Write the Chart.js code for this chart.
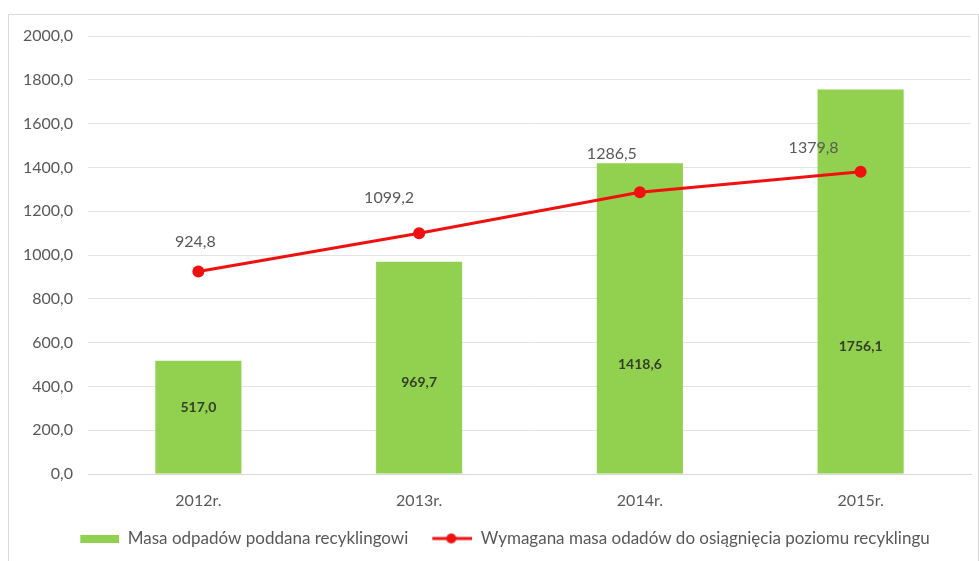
<!DOCTYPE html>
<html>
<head>
<meta charset="utf-8">
<script src="https://cdn.jsdelivr.net/npm/chart.js@4.4.0/dist/chart.umd.min.js"></script>
<style>
    html, body { margin: 0; padding: 0; background: #fff; }
    #wrap { position: relative; width: 979px; height: 561px; overflow: hidden; }
    #frame { position: absolute; left: 8px; top: 14px; width: 969px; height: 600px; border: 1px solid #d9d9d9; pointer-events: none; }
</style>
</head>
<body>
<div id="wrap">
    <canvas id="myChart" width="979" height="561"></canvas>
    <div id="frame"></div>
</div>
<script>
"use strict";

var years = ["2012r.", "2013r.", "2014r.", "2015r."];
var recycled = [517.0, 969.7, 1418.6, 1756.1];
var required = [924.8, 1099.2, 1286.5, 1379.8];
var barLabel = "Masa odpadów poddana recyklingowi";
var lineLabel = "Wymagana masa odadów do osiągnięcia poziomu recyklingu";

var barColor = "#92d050";
var lineColor = "#f01010";
var textColor = "#595959";
var fontName = "Lato, 'Noto Sans', sans-serif";

function fmt(v) {
    return v.toFixed(1).replace(".", ",");
}

// little canvases used as legend markers
function marker(w, h, draw) {
    var c = document.createElement("canvas");
    c.width = w;
    c.height = h;
    draw(c.getContext("2d"));
    return c;
}
var greenMark = marker(54, 8, function (g) {
    g.fillStyle = barColor;
    g.fillRect(15, 0, 39, 8);
});
var redMark = marker(54, 12, function (g) {
    g.strokeStyle = lineColor;
    g.lineWidth = 3;
    g.beginPath();
    g.moveTo(14, 6);
    g.lineTo(54, 6);
    g.stroke();
    g.fillStyle = lineColor;
    g.beginPath();
    g.arc(33, 6, 5, 0, Math.PI * 2);
    g.fill();
});

// value labels, drawn by hand since no datalabels plugin is around
var valueLabels = {
    id: "valueLabels",
    afterDatasetsDraw: function (chart, args, opts) {
        var ctx = chart.ctx;
        var y = chart.scales.y;
        ctx.save();
        ctx.textAlign = "center";
        ctx.textBaseline = "middle";

        var bars = chart.getDatasetMeta(0).data;
        ctx.font = "bold 14px " + fontName;
        ctx.fillStyle = "#333f26";
        bars.forEach(function (bar, i) {
            ctx.fillText(fmt(recycled[i]), bar.x, y.getPixelForValue(opts.barAnchor[i]));
        });

        var pts = chart.getDatasetMeta(1).data;
        ctx.font = "16px " + fontName;
        ctx.fillStyle = textColor;
        pts.forEach(function (p, i) {
            var off = opts.lineOffset[i];
            ctx.fillText(fmt(required[i]), p.x + off[0], p.y + off[1]);
        });
        ctx.restore();
    }
};

// nudge the legend sideways, the original is not quite centred
var legendShift = {
    id: "legendShift",
    afterLayout: function (chart, args, opts) {
        chart.legend.left += opts.dx;
        chart.legend.right += opts.dx;
    }
};

var ctx = document.getElementById("myChart");

var myChart = new Chart(ctx, {
    type: "bar",
    data: {
        labels: years,
        datasets: [
            {
                type: "bar",
                label: barLabel,
                data: recycled,
                backgroundColor: barColor,
                borderWidth: 0,
                barPercentage: 0.39,
                categoryPercentage: 1.0,
                order: 2
            },
            {
                type: "line",
                label: lineLabel,
                data: required,
                borderColor: lineColor,
                backgroundColor: lineColor,
                borderWidth: 3,
                pointRadius: 6,
                pointBorderWidth: 0,
                pointBackgroundColor: lineColor,
                tension: 0,
                fill: false,
                order: 1
            }
        ]
    },
    options: {
        responsive: false,
        animation: false,
        layout: {
            padding: { left: 0, right: 8, top: 36, bottom: 4 }
        },
        scales: {
            x: {
                grid: { display: false, drawTicks: false },
                border: { color: "#d9d9d9" },
                ticks: {
                    color: textColor,
                    font: { family: fontName, size: 16 },
                    padding: 17
                },
                afterFit: function (scale) { scale.height = 46; }
            },
            y: {
                min: 0,
                max: 2000,
                grid: { color: "#e3e3e3", drawTicks: false },
                border: { display: false },
                ticks: {
                    stepSize: 200,
                    color: textColor,
                    font: { family: fontName, size: 16 },
                    padding: 15,
                    callback: function (v) { return fmt(v); }
                },
                afterFit: function (scale) { scale.width = 88; }
            }
        },
        plugins: {
            tooltip: { enabled: false },
            legend: {
                position: "bottom",
                labels: {
                    usePointStyle: true,
                    pointStyleWidth: 54,
                    padding: 10,
                    color: textColor,
                    font: { family: fontName, size: 17 },
                    sort: function (a, b) { return a.datasetIndex - b.datasetIndex; },
                    generateLabels: function (chart) {
                        var items = Chart.defaults.plugins.legend.labels.generateLabels(chart);
                        items.forEach(function (it) {
                            it.pointStyle = it.datasetIndex === 0 ? greenMark : redMark;
                        });
                        return items;
                    }
                }
            },
            legendShift: { dx: 12 },
            valueLabels: {
                barAnchor: [306, 420, 498, 580],
                lineOffset: [[-3, -30], [-30, -35], [-28, -38], [-47, -24]]
            }
        }
    },
    plugins: [valueLabels, legendShift]
});
</script>
</body>
</html>
